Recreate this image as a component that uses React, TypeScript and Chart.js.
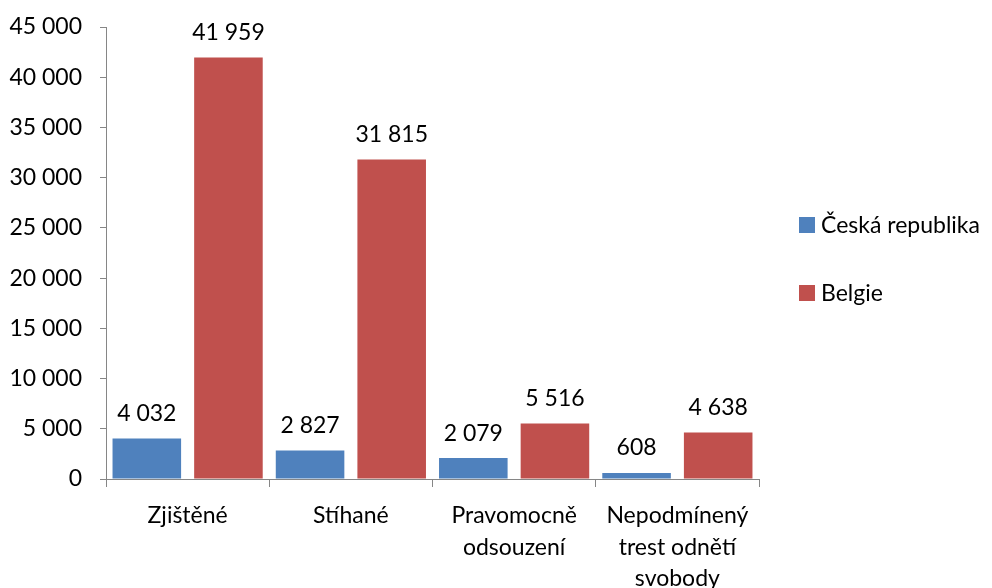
import React, { useEffect, useRef } from "react";
import { Chart, registerables } from "chart.js";

Chart.register(...registerables);

const categories: string[][] = [
  ["Zjištěné"],
  ["Stíhané"],
  ["Pravomocně", "odsouzení"],
  ["Nepodmínený", "trest odnětí", "svobody"],
];
const seriesNames = ["Česká republika", "Belgie"];
const czValues = [4032, 2827, 2079, 608];
const beValues = [41959, 31815, 5516, 4638];
const seriesColors = ["#4F81BD", "#C0504D"];
const yMax = 45000;
const yStep = 5000;

const FONT = "Lato, 'Open Sans', sans-serif";
const FONT_SIZE = 23;
const AXIS_COLOR = "#868686";

const fmt = (v: number) => String(Math.round(v)).replace(/\B(?=(\d{3})+(?!\d))/g, " ");

const labelsPlugin = {
  id: "labelsAndLegend",
  afterDatasetsDraw(chart: any) {
    const ctx = chart.ctx;
    ctx.save();
    ctx.font = `${FONT_SIZE}px ${FONT}`;
    ctx.fillStyle = "#000";
    ctx.textAlign = "center";
    ctx.textBaseline = "middle";
    chart.data.datasets.forEach((ds: any, i: number) => {
      const meta = chart.getDatasetMeta(i);
      meta.data.forEach((bar: any, j: number) => {
        ctx.fillText(fmt(ds.data[j]), bar.x, bar.y - 25);
      });
    });
    // legend
    const lx = 799;
    const ys = [225, 293];
    ctx.textAlign = "left";
    chart.data.datasets.forEach((ds: any, i: number) => {
      ctx.fillStyle = ds.backgroundColor;
      ctx.fillRect(lx, ys[i] - 8, 16, 16);
      ctx.fillStyle = "#000";
      ctx.fillText(ds.label, lx + 22, ys[i] + 1);
    });
    ctx.restore();
  },
};

export default function App() {
  const ref = useRef<HTMLCanvasElement | null>(null);
  useEffect(() => {
    if (!ref.current) return;
    const chart = new Chart(ref.current, {
      type: "bar",
      data: {
        labels: categories,
        datasets: [
          { label: seriesNames[0], data: czValues, backgroundColor: seriesColors[0] },
          { label: seriesNames[1], data: beValues, backgroundColor: seriesColors[1] },
        ],
      },
      options: {
        responsive: false,
        animation: false,
        layout: { padding: { left: 0, top: 27, right: 233, bottom: 0 } },
        plugins: { legend: { display: false }, tooltip: { enabled: false } },
        datasets: { bar: { categoryPercentage: 1.0, barPercentage: 0.84 } },
        scales: {
          x: {
            offset: true,
            grid: {
              offset: true,
              drawOnChartArea: false,
              drawTicks: true,
              tickLength: 8,
              color: AXIS_COLOR,
            },
            border: { color: AXIS_COLOR, width: 1 },
            ticks: {
              color: "#000",
              font: { family: FONT, size: FONT_SIZE, lineHeight: 1.37 },
              padding: 13,
              maxRotation: 0,
              autoSkip: false,
            },
            afterFit: (s: any) => {
              s.height = 109;
              s.paddingLeft = 0;
              s.paddingRight = 0;
            },
          },
          y: {
            min: 0,
            max: yMax,
            ticks: {
              stepSize: yStep,
              color: "#000",
              font: { family: FONT, size: FONT_SIZE },
              padding: 18,
              callback: (v: any) => fmt(Number(v)),
            },
            grid: {
              drawOnChartArea: false,
              drawTicks: true,
              tickLength: 6,
              color: AXIS_COLOR,
            },
            border: { color: AXIS_COLOR, width: 1 },
            afterFit: (s: any) => {
              s.width = 106;
              s.paddingTop = 0;
              s.paddingBottom = 0;
            },
          },
        },
      },
      plugins: [labelsPlugin],
    });
    return () => chart.destroy();
  }, []);
  return (
    <div style={{ position: "absolute", left: 0, top: 0, width: 992, height: 588, background: "#fff" }}>
      <canvas ref={ref} width={992} height={588} />
    </div>
  );
}
